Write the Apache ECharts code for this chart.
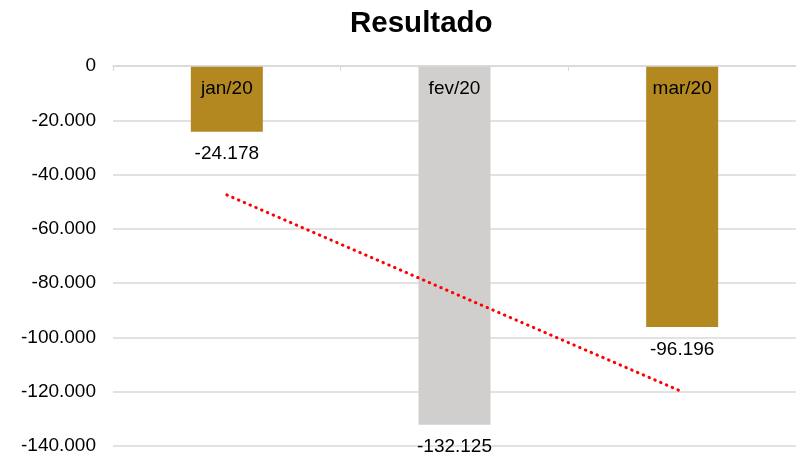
<!DOCTYPE html>
<html>
<head>
<meta charset="utf-8">
<script src="https://cdn.jsdelivr.net/npm/echarts@6/dist/echarts.min.js"></script>
<style>html,body{margin:0;padding:0;background:#fff}#c{width:796px;height:456px}</style>
</head>
<body>
<div id="c"></div>
<script>
const categories = ['jan/20', 'fev/20', 'mar/20'];
const resultValues = [-24178, -132125, -96196];
const barColors = ['#B38820', '#D0CFCE', '#B38820'];
const trendValues = [-47500, -83800, -120000];
const yTicks = [0, -20000, -40000, -60000, -80000, -100000, -120000, -140000];

function fmt(v) {
  const s = Math.abs(Math.round(v)).toString().replace(/\B(?=(\d{3})+(?!\d))/g, '.');
  return (v < 0 ? '-' : '') + s;
}

const FONT = 'Liberation Sans, Arial, sans-serif';
const chart = echarts.init(document.getElementById('c'), null, {renderer: 'canvas'});
chart.setOption({
  animation: false,
  backgroundColor: '#fff',
  title: {
    text: 'Resultado',
    left: 345,
    top: 4,
    textStyle: {fontFamily: FONT, fontSize: 29.5, fontWeight: 'bold', color: '#000'}
  },
  grid: {left: 113, top: 66, width: 690, height: 380, containLabel: false},
  xAxis: {
    type: 'category',
    data: categories,
    position: 'top',
    axisLine: {show: true, onZero: false, lineStyle: {color: '#D9D9D9', width: 1.5}},
    axisTick: {show: true, inside: true, length: 5, lineStyle: {color: '#D9D9D9'}},
    axisLabel: {inside: true, margin: 13, verticalAlign: 'top', color: '#000', fontSize: 19, fontFamily: FONT},
    splitLine: {show: false},
    z: 10
  },
  yAxis: {
    type: 'value',
    min: yTicks[yTicks.length - 1],
    max: yTicks[0],
    interval: 20000,
    axisLine: {show: false},
    axisTick: {show: false},
    splitLine: {lineStyle: {color: '#D9D9D9', width: 1.5}},
    axisLabel: {
      margin: 17,
      color: '#000',
      fontSize: 19,
      fontFamily: FONT,
      formatter: v => fmt(v)
    }
  },
  series: [
    {
      type: 'bar',
      barWidth: 72,
      data: resultValues.map((v, i) => ({value: v, itemStyle: {color: barColors[i]}})),
      label: {
        show: true,
        position: 'bottom',
        distance: 13,
        color: '#000',
        fontSize: 19,
        fontFamily: FONT,
        formatter: p => fmt(p.value)
      },
      z: 2
    },
    {
      type: 'line',
      data: trendValues,
      symbol: 'none',
      lineStyle: {color: '#FF0000', width: 3, type: [0.5, 5.8], cap: 'round'},
      z: 5
    }
  ]
});
</script>
</body>
</html>
